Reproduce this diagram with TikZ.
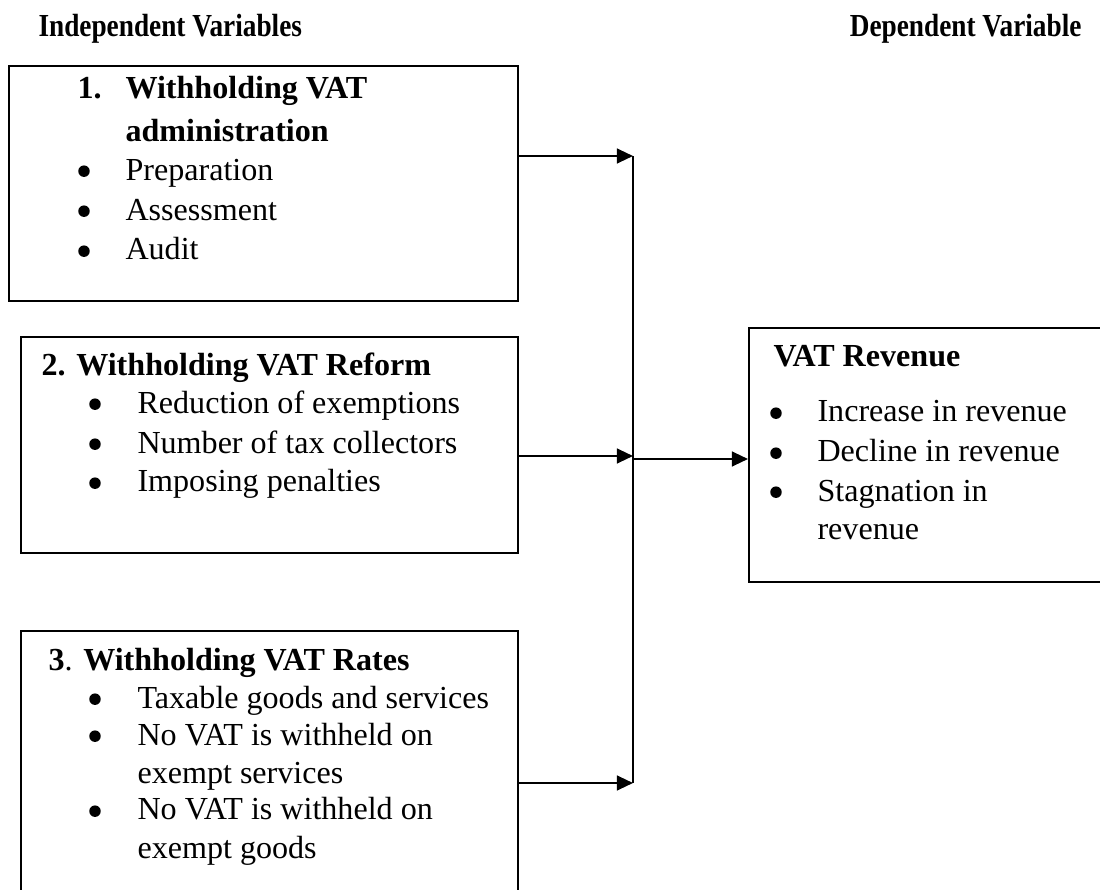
\documentclass[tikz,border=0pt]{standalone}
\usepackage{fontspec}
\setmainfont{Liberation Serif}
\usetikzlibrary{arrows.meta}
\begin{document}
\begin{tikzpicture}[x=0.374pt,y=-0.374pt]

	\tikzstyle{box}=[draw=black,line width=0.8pt,inner sep=0pt,
		anchor=north west]
	\tikzstyle{txt}=[anchor=base west,inner sep=0pt,
		font=\fontsize{12}{15}\selectfont]
	\tikzstyle{head}=[txt,font=\fontsize{12}{15}\selectfont\bfseries]
	\tikzstyle{dot}=[circle,fill=black,inner sep=0pt,minimum size=4.3pt,
		yshift=3.3pt]
	\tikzstyle{link}=[line width=0.8pt,
		-{Triangle[length=6pt,width=5.5pt]}]

	\useasboundingbox (0,0) rectangle (1100,890);

	% headings
	\node[head]		(iv)	at (38,37)	{\scalebox{0.85}[1]{Independent Variables}};
	\node[head,anchor=base east]	(dv)	at (1082,37)	{\scalebox{0.85}[1]{Dependent Variable}};

	% boxes
	\node[box,minimum width=190.4pt,minimum height=87.9pt]	(adm)	at (8,65)	{};
	\node[box,minimum width=185.9pt,minimum height=80.8pt]	(ref)	at (20,336)	{};
	\node[box,minimum width=185.9pt,minimum height=99.1pt]	(rat)	at (20,630)	{};
	\node[box,minimum width=132.4pt,minimum height=95.0pt]	(rev)	at (748,327)	{};

	% box 1
	\node[head]	(a0)	at (77,99)	{1.};
	\node[head]	(a01)	at (125,99)	{Withholding VAT};
	\node[head]	(a02)	at (125,141)	{administration};
	\foreach \y/\t [count=\i] in {180/Preparation,220/Assessment,260/Audit}{
		\node[dot]	(da\i)	at (84,\y)	{};
		\node[txt]	(a\i)	at (125,\y)	{\t};
	}

	% box 2
	\node[head]	(b0)	at (41,375)	{2. Withholding VAT Reform};
	\foreach \y/\t [count=\i] in {413/Reduction of exemptions,
		453/Number of tax collectors,492/Imposing penalties}{
		\node[dot]	(db\i)	at (95,\y)	{};
		\node[txt]	(b\i)	at (137,\y)	{\t};
	}

	% box 3
	\node[txt]	(c0)	at (48,670)	{\textbf{3}. \textbf{Withholding VAT Rates}};
	\foreach \y/\t [count=\i] in {708/Taxable goods and services,
		745/No VAT is withheld on,783/exempt services,
		820/No VAT is withheld on,858/exempt goods}{
		\node[txt]	(c\i)	at (137,\y)	{\t};
	}
	\foreach \y [count=\i] in {708,745,820}
		\node[dot]	(dc\i)	at (95,\y)	{};

	% box 4
	\node[head]	(d0)	at (773,367)	{VAT Revenue};
	\foreach \y/\t [count=\i] in {422/Increase in revenue,
		462/Decline in revenue,501/Stagnation in,540/revenue}{
		\node[txt]	(d\i)	at (817,\y)	{\t};
	}
	\foreach \y [count=\i] in {422,462,501}
		\node[dot]	(dd\i)	at (776,\y)	{};

	% connectors
	\coordinate	(j1)	at (633,156);
	\coordinate	(j2)	at (633,456);
	\coordinate	(j3)	at (633,783);
	\coordinate	(jo)	at (633,459);

	\draw[line width=0.8pt]	(j1) -- (j3);
	\draw[link]	(adm.east |- j1) -- (j1);
	\draw[link]	(ref.east |- j2) -- (j2);
	\draw[link]	(rat.east |- j3) -- (j3);
	\draw[link]	(jo) -- (jo -| rev.west);

\end{tikzpicture}
\end{document}
